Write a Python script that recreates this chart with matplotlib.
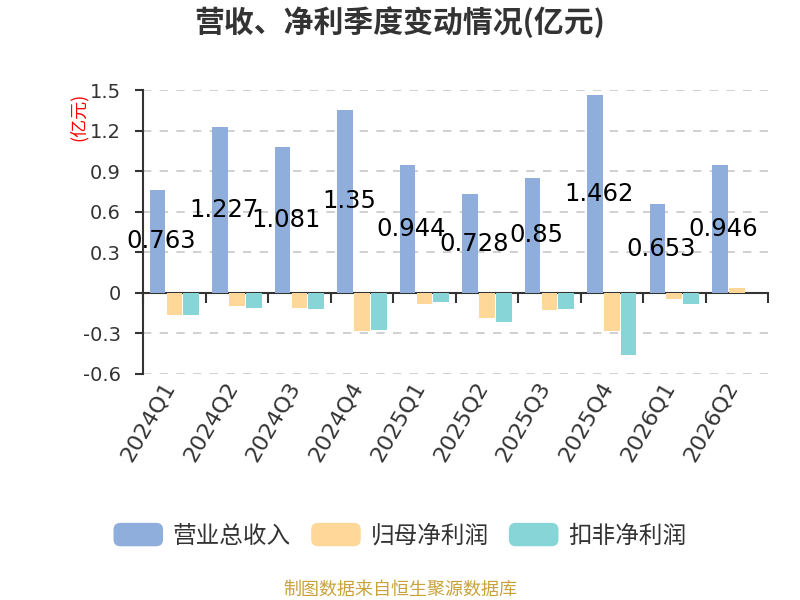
import numpy as np
import matplotlib
matplotlib.use('Agg')
import matplotlib.pyplot as plt
from matplotlib.patches import FancyBboxPatch, Patch
from matplotlib.legend_handler import HandlerPatch

plt.rcParams['font.family'] = ['Noto Sans CJK SC', 'DejaVu Sans']

# ── Datos ─────────────────────────────────────────────────────────────────────
quarters = ['2024Q1', '2024Q2', '2024Q3', '2024Q4', '2025Q1',
            '2025Q2', '2025Q3', '2025Q4', '2026Q1', '2026Q2']
revenue = [0.763, 1.227, 1.081, 1.35, 0.944, 0.728, 0.85, 1.462, 0.653, 0.946]
net_profit = [-0.163, -0.10, -0.115, -0.283, -0.08, -0.19, -0.128, -0.283, -0.044, 0.038]
net_profit_ex = [-0.165, -0.11, -0.123, -0.276, -0.07, -0.217, -0.123, -0.459, -0.083, -0.003]
yticks = [-0.6, -0.3, 0, 0.3, 0.6, 0.9, 1.2, 1.5]
ytick_labels = ['-0.6', '-0.3', '0', '0.3', '0.6', '0.9', '1.2', '1.5']
series_names = ['营业总收入', '归母净利润', '扣非净利润']

c_rev = '#8FAEDB'
c_np = '#FFD899'
c_ex = '#88D5D8'
c_txt = '#333333'


class RoundBox(HandlerPatch):
    # caja redondeada para la leyenda
    def create_artists(self, legend, orig_handle, xdescent, ydescent,
                       width, height, fontsize, trans):
        p = FancyBboxPatch((-xdescent, -ydescent), width, height,
                           boxstyle='round,pad=0,rounding_size=5',
                           facecolor=orig_handle.get_facecolor(),
                           edgecolor='none', transform=trans)
        return [p]


fig = plt.figure(figsize=(8, 6), dpi=100)
ax = fig.add_axes([0.179, 0.377, 0.781, 0.473])

x = np.arange(len(quarters))
w = 0.27
bw = 0.25
ax.bar(x - w, revenue, bw, color=c_rev, zorder=3)
ax.bar(x, net_profit, bw, color=c_np, zorder=3)
ax.bar(x + w, net_profit_ex, bw, color=c_ex, zorder=3)

for xi, v in zip(x, revenue):
    ax.text(xi - 0.21, v / 2, f'{v:g}', ha='center', va='center',
            fontsize=17.5, color='black', family='DejaVu Sans', zorder=4)

ax.set_xlim(-0.5, len(quarters) - 0.5)
ax.set_ylim(-0.6, 1.5)
ax.set_yticks(yticks)
ax.set_yticklabels(ytick_labels, fontsize=14, color=c_txt, family='DejaVu Sans')
ax.grid(axis='y', linestyle=(0, (5, 5)), color='#c8c8c8', linewidth=1.2, zorder=0)

for s in ['top', 'right']:
    ax.spines[s].set_visible(False)
ax.spines['left'].set_color(c_txt)
ax.spines['left'].set_linewidth(1.5)
ax.spines['bottom'].set_position(('data', 0))
ax.spines['bottom'].set_color(c_txt)
ax.spines['bottom'].set_linewidth(1.5)
ax.tick_params(axis='y', length=6, width=1.5, color=c_txt, pad=10)

# marcas entre categorías sobre la línea cero, etiquetas debajo del gráfico
ax.set_xticks(np.arange(len(quarters) + 1) - 0.5, minor=True)
ax.set_xticks([])
ax.tick_params(axis='x', which='minor', length=7, width=1.5, direction='out', color=c_txt)
for xi, q in zip(x, quarters):
    ax.text(xi - 0.2, -0.63, q, rotation=60, ha='right', va='top',
            fontsize=16, color=c_txt, family='DejaVu Sans', rotation_mode='anchor')

ax.text(-0.104, 0.905, '(亿元)', transform=ax.transAxes, rotation=90,
        fontsize=13, color='red', ha='center', va='center')

fig.text(0.5, 0.963, '营收、净利季度变动情况(亿元)', ha='center', va='center',
         fontsize=21.5, fontweight='bold', color=c_txt)

handles = [Patch(facecolor=c) for c in (c_rev, c_np, c_ex)]
fig.legend(handles, series_names, loc='center', bbox_to_anchor=(0.5, 0.108), ncol=3,
           frameon=False, fontsize=17, handlelength=2.1, handleheight=1.15,
           columnspacing=0.85, handletextpad=0.42, labelcolor=c_txt,
           handler_map={Patch: RoundBox()})

fig.text(0.5, 0.018, '制图数据来自恒生聚源数据库', ha='center', va='center',
         fontsize=13, color='#C9A33A')

plt.savefig('out.png', dpi=100)
plt.close()
